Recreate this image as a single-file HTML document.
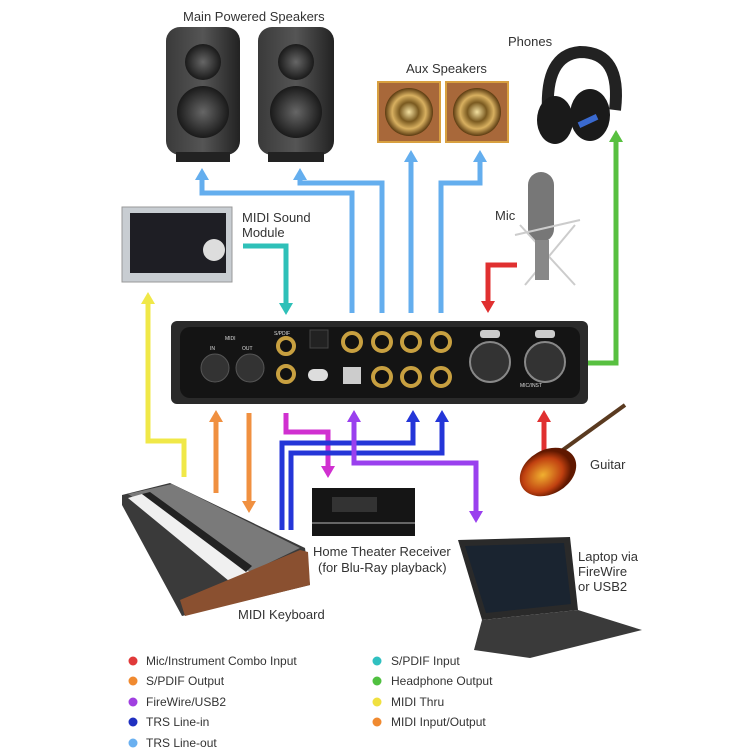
<!DOCTYPE html>
<html><head><meta charset="utf-8"><style>
html,body{margin:0;padding:0;background:#fff}
svg{display:block}
text{font-family:"Liberation Sans",sans-serif;fill:#333}
</style></head><body>
<svg width="756" height="756" viewBox="0 0 756 756" xmlns="http://www.w3.org/2000/svg">
<defs>
<linearGradient id="spk" x1="0" x2="1"><stop offset="0" stop-color="#3a3a3a"/><stop offset=".5" stop-color="#555"/><stop offset="1" stop-color="#222"/></linearGradient>
<radialGradient id="cone"><stop offset="0" stop-color="#666"/><stop offset="1" stop-color="#1a1a1a"/></radialGradient>
<radialGradient id="gold"><stop offset="0" stop-color="#f3e0a0"/><stop offset=".4" stop-color="#7a5a20"/><stop offset=".7" stop-color="#d8b060"/><stop offset="1" stop-color="#5a3a10"/></radialGradient>
<radialGradient id="guit" cx=".4" cy=".5"><stop offset="0" stop-color="#f0b030"/><stop offset=".7" stop-color="#c04010"/><stop offset="1" stop-color="#601800"/></radialGradient>
</defs>

<text x="183" y="21" font-size="13">Main Powered Speakers</text>
<text x="406" y="73" font-size="13">Aux Speakers</text>
<text x="508" y="46" font-size="13">Phones</text>
<text x="242" y="222" font-size="13">MIDI Sound</text>
<text x="242" y="237" font-size="13">Module</text>
<text x="495" y="220" font-size="13">Mic</text>
<text x="590" y="469" font-size="13">Guitar</text>
<text x="313" y="556" font-size="13">Home Theater Receiver</text>
<text x="318" y="572" font-size="13">(for Blu-Ray playback)</text>
<text x="238" y="619" font-size="13">MIDI Keyboard</text>
<text x="578" y="561" font-size="13">Laptop via</text>
<text x="578" y="576" font-size="13">FireWire</text>
<text x="578" y="591" font-size="13">or USB2</text>

<rect x="166" y="27" width="74" height="128" rx="14" fill="url(#spk)"/>
<circle cx="203" cy="62" r="18" fill="url(#cone)"/>
<circle cx="203" cy="112" r="26" fill="url(#cone)"/>
<rect x="176" y="152" width="54" height="10" fill="#222"/>
<rect x="258" y="27" width="76" height="128" rx="14" fill="url(#spk)"/>
<circle cx="296" cy="62" r="18" fill="url(#cone)"/>
<circle cx="296" cy="112" r="26" fill="url(#cone)"/>
<rect x="268" y="152" width="56" height="10" fill="#222"/>

<rect x="378" y="82" width="62" height="60" fill="#a8683a" stroke="#d8a040" stroke-width="2"/>
<circle cx="409" cy="112" r="24" fill="url(#gold)"/>
<rect x="446" y="82" width="62" height="60" fill="#a8683a" stroke="#d8a040" stroke-width="2"/>
<circle cx="477" cy="112" r="24" fill="url(#gold)"/>

<path d="M548 112 Q545 55 580 52 Q622 52 615 110" fill="none" stroke="#222" stroke-width="12"/>
<ellipse cx="555" cy="120" rx="18" ry="24" fill="#1a1a1a"/>
<ellipse cx="590" cy="115" rx="20" ry="26" fill="#1a1a1a"/>
<rect x="578" y="118" width="20" height="6" fill="#3a6ad0" transform="rotate(-25 588 121)"/>

<rect x="122" y="207" width="110" height="75" fill="#c8cdd2" stroke="#999"/>
<rect x="130" y="213" width="96" height="60" fill="#1e1e24"/>
<circle cx="214" cy="250" r="11" fill="#ddd"/>

<rect x="528" y="172" width="26" height="70" rx="13" fill="#777"/>
<path d="M515 235 L580 220 M520 225 L575 285 M575 225 L525 285" stroke="#ccc" stroke-width="2"/>
<rect x="535" y="240" width="14" height="40" fill="#888"/>

<g fill="none" stroke-width="5" stroke-linejoin="miter">
<path d="M352 313 V193 H202 V178" stroke="#64aeee"/>
<path d="M382 313 V183 H300 V178" stroke="#64aeee"/>
<path d="M411 313 V160" stroke="#64aeee"/>
<path d="M441 313 V183 H480 V160" stroke="#64aeee"/>
<path d="M243 246 H286 V305" stroke="#2ec0b8"/>
<path d="M517 265 H488 V303" stroke="#e03030"/>
<path d="M588 363 H616 V140" stroke="#58c040"/>
<path d="M544 453 V420" stroke="#e03030"/>
<path d="M184 477 V441 H148 V302" stroke="#f0e848"/>
<path d="M216 493 V420" stroke="#f09040"/>
<path d="M249 413 V503" stroke="#f09040"/>
<path d="M286 413 V432 H328 V468" stroke="#d030d0"/>
<path d="M413 420 V443 H282 V530" stroke="#2436d8"/>
<path d="M442 420 V453 H291 V530" stroke="#2436d8"/>
<path d="M354 420 V463 H476 V513" stroke="#9a40ee"/>
</g>
<g>
<path d="M195 180 L202 168 L209 180Z" fill="#64aeee"/>
<path d="M293 180 L300 168 L307 180Z" fill="#64aeee"/>
<path d="M404 162 L411 150 L418 162Z" fill="#64aeee"/>
<path d="M473 162 L480 150 L487 162Z" fill="#64aeee"/>
<path d="M279 303 L286 315 L293 303Z" fill="#2ec0b8"/>
<path d="M481 301 L488 313 L495 301Z" fill="#e03030"/>
<path d="M609 142 L616 130 L623 142Z" fill="#58c040"/>
<path d="M537 422 L544 410 L551 422Z" fill="#e03030"/>
<path d="M141 304 L148 292 L155 304Z" fill="#f0e848"/>
<path d="M209 422 L216 410 L223 422Z" fill="#f09040"/>
<path d="M242 501 L249 513 L256 501Z" fill="#f09040"/>
<path d="M321 466 L328 478 L335 466Z" fill="#d030d0"/>
<path d="M406 422 L413 410 L420 422Z" fill="#2436d8"/>
<path d="M435 422 L442 410 L449 422Z" fill="#2436d8"/>
<path d="M347 422 L354 410 L361 422Z" fill="#9a40ee"/>
<path d="M469 511 L476 523 L483 511Z" fill="#9a40ee"/>
</g>

<rect x="171" y="321" width="417" height="83" rx="6" fill="#2a2a2a"/>
<rect x="180" y="327" width="400" height="71" rx="10" fill="#141414"/>
<g fill="#333" stroke="#555"><circle cx="215" cy="368" r="14"/><circle cx="250" cy="368" r="14"/></g>
<g fill="#111" stroke="#c8a040" stroke-width="4"><circle cx="286" cy="346" r="8"/><circle cx="286" cy="374" r="8"/>
<circle cx="352" cy="342" r="9"/><circle cx="382" cy="342" r="9"/><circle cx="411" cy="342" r="9"/><circle cx="441" cy="342" r="9"/>
<circle cx="382" cy="377" r="9"/><circle cx="411" cy="377" r="9"/><circle cx="441" cy="377" r="9"/></g>
<rect x="310" y="330" width="18" height="18" fill="#222" stroke="#444"/>
<rect x="308" y="369" width="20" height="12" rx="6" fill="#ddd"/>
<rect x="343" y="367" width="18" height="17" fill="#ccc"/>
<g fill="#333" stroke="#888" stroke-width="2"><circle cx="490" cy="362" r="20"/><circle cx="545" cy="362" r="20"/></g>
<rect x="480" y="330" width="20" height="8" rx="3" fill="#ccc"/><rect x="535" y="330" width="20" height="8" rx="3" fill="#ccc"/>
<g font-size="5"><text x="225" y="340" style="fill:#ddd">MIDI</text><text x="210" y="350" style="fill:#ddd">IN</text><text x="242" y="350" style="fill:#ddd">OUT</text><text x="274" y="335" style="fill:#ddd">S/PDIF</text><text x="520" y="387" style="fill:#ddd">MIC/INST</text></g>

<path d="M560 452 L625 405" stroke="#5a3a20" stroke-width="4"/>
<ellipse cx="548" cy="472" rx="30" ry="22" fill="url(#guit)" transform="rotate(-30 548 472)"/>

<!-- keyboard -->
<path d="M122 495 L170 483 L305 548 L310 585 L182 616 L122 505Z" fill="#3a3a3a"/>
<path d="M128 494 L172 484 L300 548 L250 572Z" fill="#7a7a7a"/>
<path d="M128 498 L142 494 L250 572 L240 590Z" fill="#f0f0f0"/>
<path d="M142 494 L150 492 L252 566 L246 572Z" fill="#222"/>
<path d="M180 600 L300 550 L308 552 L310 585 L185 616Z" fill="#8a5030"/>

<rect x="312" y="488" width="103" height="48" fill="#151515"/>
<rect x="332" y="497" width="45" height="15" fill="#333"/>
<rect x="312" y="522" width="103" height="2" fill="#666"/>

<path d="M458 540 L570 537 L578 610 L482 620Z" fill="#2a2a2a"/>
<path d="M465 546 L564 543 L571 604 L486 613Z" fill="#1a2430"/>
<path d="M482 620 L578 610 L642 630 L530 658 L474 650Z" fill="#3a3a3a"/>

<g font-size="12">
<circle cx="133" cy="661" r="4.5" fill="#e03a3a"/><text x="146" y="665">Mic/Instrument Combo Input</text>
<circle cx="133" cy="681" r="4.5" fill="#f08a30"/><text x="146" y="685">S/PDIF Output</text>
<circle cx="133" cy="702" r="4.5" fill="#a040e0"/><text x="146" y="706">FireWire/USB2</text>
<circle cx="133" cy="722" r="4.5" fill="#2030c0"/><text x="146" y="726">TRS Line-in</text>
<circle cx="133" cy="743" r="4.5" fill="#6ab0f0"/><text x="146" y="747">TRS Line-out</text>
<circle cx="377" cy="661" r="4.5" fill="#30c0c0"/><text x="391" y="665">S/PDIF Input</text>
<circle cx="377" cy="681" r="4.5" fill="#50c040"/><text x="391" y="685">Headphone Output</text>
<circle cx="377" cy="702" r="4.5" fill="#f0e040"/><text x="391" y="706">MIDI Thru</text>
<circle cx="377" cy="722" r="4.5" fill="#f08a30"/><text x="391" y="726">MIDI Input/Output</text>
</g>
</svg>
</body></html>
